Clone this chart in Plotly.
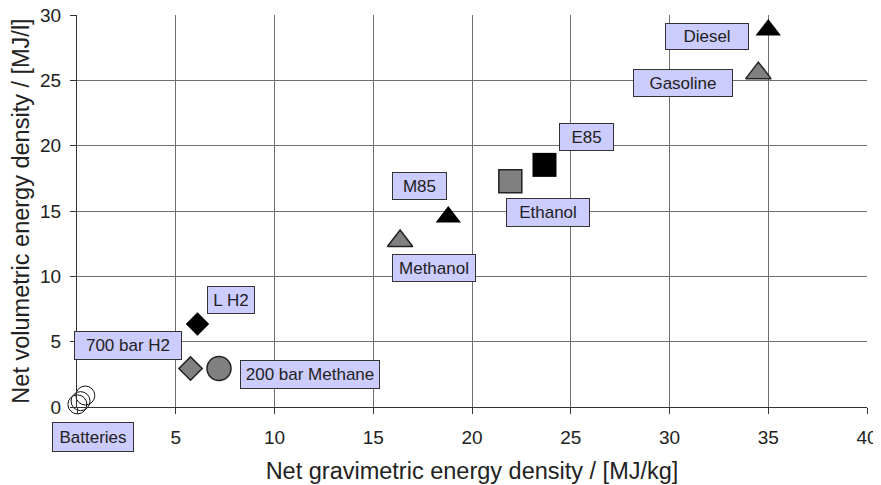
import plotly.graph_objects as go

# ---- data ----
fuels = ["Diesel", "Gasoline", "E85", "Ethanol", "M85", "Methanol",
         "L H2", "700 bar H2", "200 bar Methane"]
grav = [35.0, 34.5, 23.67, 21.94, 18.8, 16.36, 6.1, 5.75, 7.19]
vol = [28.85, 25.55, 18.53, 17.28, 14.55, 12.7, 6.35, 2.94, 2.95]
symbols = ["triangle-up", "triangle-up", "square", "square", "triangle-up",
           "triangle-up", "diamond", "diamond", "circle"]
fills = ["black", "gray", "black", "gray", "black", "gray", "black", "gray", "gray"]
sizes = [22, 22, 24, 23, 22, 22, 18, 18, 24]

battery_grav = [0.02, 0.18, 0.42]
battery_vol = [0.2, 0.45, 0.88]

label_text = ["Diesel", "Gasoline", "E85", "Ethanol", "M85", "Methanol",
              "L H2", "700 bar H2", "200 bar Methane", "Batteries"]
label_x = [31.9, 30.67, 25.81, 23.85, 17.33, 18.07, 7.8, 2.59, 11.82, 0.8]
label_y = [28.33, 24.83, 20.66, 14.88, 16.9, 10.63, 8.16, 4.72, 2.52, -2.3]
label_w = [84, 100, 55, 84, 55, 84, 48, 108, 140, 82]
label_h = [27, 28, 28, 29, 28, 28, 28, 29, 29, 30]

x_ticks = [0, 5, 10, 15, 20, 25, 30, 35, 40]
x_ticklabels = ["", "5", "10", "15", "20", "25", "30", "35", "40"]  # 0 hidden under "Batteries"
y_ticks = [0, 5, 10, 15, 20, 25, 30]

FONT = "Liberation Sans, Arial, sans-serif"
PX_PER_Y = 392.0 / 30.0  # plot height / y span, used to offset labels below the axis

fig = go.Figure()

for i in range(len(fuels)):
    fig.add_trace(go.Scatter(
        x=[grav[i]], y=[vol[i]], mode="markers", name=fuels[i],
        showlegend=False, cliponaxis=False,
        marker=dict(symbol=symbols[i], size=sizes[i], color=fills[i],
                    line=dict(color="#222222", width=1.5 if fills[i] == "gray" else 0)),
    ))

fig.add_trace(go.Scatter(
    x=battery_grav, y=battery_vol, mode="markers", name="Batteries",
    showlegend=False, cliponaxis=False,
    marker=dict(symbol="circle", size=19, color="rgba(0,0,0,0)",
                line=dict(color="#111111", width=1)),
))

for t, x, y, w, h in zip(label_text, label_x, label_y, label_w, label_h):
    yy, shift = (y, 0) if y >= 0 else (0, y * PX_PER_Y)
    fig.add_annotation(
        x=x, y=yy, yshift=shift, xref="x", yref="y", text=t, showarrow=False,
        xanchor="center", yanchor="middle",
        width=w - 2, height=h - 2, borderpad=0, borderwidth=1,
        bordercolor="#333333", bgcolor="#CCCCFF",
        font=dict(family=FONT, size=17, color="#222222"),
    )

# page body has an 8px margin, so the figure is sized to fit the window
fig.update_layout(
    width=873, height=477,
    margin=dict(l=69, r=14, t=7, b=78),
    paper_bgcolor="white", plot_bgcolor="white",
    font=dict(family=FONT, color="#222222"),
)

fig.update_xaxes(
    range=[0, 40], tickvals=x_ticks, ticktext=x_ticklabels,
    showgrid=True, gridcolor="#707070", gridwidth=1,
    showline=True, linecolor="#333333", linewidth=1,
    ticks="outside", ticklen=6, tickcolor="#333333",
    tickfont=dict(size=19, family=FONT, color="#222222"),
    ticklabelstandoff=7, ticklabeloverflow="allow",
    zeroline=False,
    title=dict(text="Net gravimetric energy density / [MJ/kg]",
               font=dict(size=23.5, family=FONT, color="#222222"), standoff=15),
    automargin=False,
)
fig.update_yaxes(
    range=[0, 30], tickvals=y_ticks, ticktext=[str(v) for v in y_ticks],
    showgrid=True, gridcolor="#707070", gridwidth=1,
    showline=True, linecolor="#333333", linewidth=1,
    ticks="outside", ticklen=6, tickcolor="#333333",
    tickfont=dict(size=19, family=FONT, color="#222222"),
    ticklabelstandoff=5, ticklabeloverflow="allow",
    zeroline=False,
    title=dict(text="Net volumetric energy density / [MJ/l]",
               font=dict(size=23.5, family=FONT, color="#222222"), standoff=4),
    automargin=False,
)

fig.write_html("out.html")
